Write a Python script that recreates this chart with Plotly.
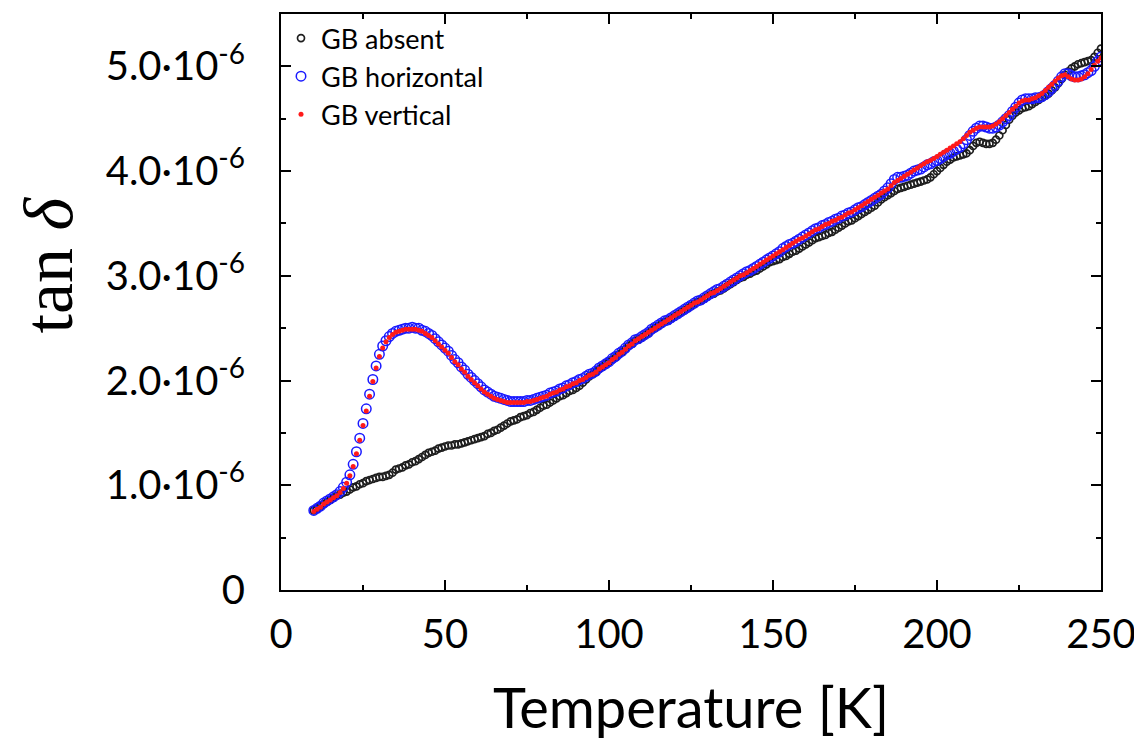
import numpy as np
import plotly.graph_objects as go

# temperature grid [K]
temperature = list(range(10, 251))

# tan delta in units of 1e-6
gb_absent = [
    0.76, 0.78, 0.80, 0.82, 0.84, 0.86, 0.88, 0.90, 0.91, 0.93,
    0.94, 0.96, 0.98, 0.99, 1.01, 1.02, 1.04, 1.05, 1.06, 1.07,
    1.08, 1.08, 1.09, 1.10, 1.12, 1.15, 1.16, 1.17, 1.19, 1.20,
    1.22, 1.23, 1.25, 1.27, 1.29, 1.31, 1.32, 1.33, 1.35, 1.36,
    1.37, 1.38, 1.38, 1.39, 1.39, 1.40, 1.41, 1.42, 1.43, 1.44,
    1.45, 1.46, 1.47, 1.49, 1.50, 1.52, 1.53, 1.55, 1.57, 1.59,
    1.61, 1.62, 1.63, 1.65, 1.66, 1.67, 1.69, 1.70, 1.72, 1.74,
    1.76, 1.77, 1.79, 1.81, 1.83, 1.85, 1.86, 1.88, 1.90, 1.91,
    1.93, 1.95, 1.98, 2.01, 2.04, 2.06, 2.08, 2.11, 2.13, 2.16,
    2.18, 2.20, 2.22, 2.25, 2.27, 2.30, 2.33, 2.35, 2.38, 2.39,
    2.41, 2.43, 2.45, 2.48, 2.50, 2.52, 2.54, 2.56, 2.57, 2.59,
    2.61, 2.63, 2.65, 2.67, 2.69, 2.71, 2.73, 2.75, 2.76, 2.78,
    2.80, 2.82, 2.83, 2.85, 2.86, 2.88, 2.90, 2.92, 2.94, 2.96,
    2.98, 2.99, 3.01, 3.02, 3.04, 3.05, 3.07, 3.09, 3.11, 3.13,
    3.14, 3.15, 3.16, 3.18, 3.19, 3.21, 3.23, 3.24, 3.26, 3.28,
    3.30, 3.32, 3.34, 3.36, 3.37, 3.38, 3.39, 3.41, 3.42, 3.44,
    3.46, 3.48, 3.50, 3.52, 3.53, 3.55, 3.57, 3.59, 3.61, 3.63,
    3.65, 3.67, 3.70, 3.73, 3.75, 3.77, 3.79, 3.81, 3.83, 3.84,
    3.85, 3.86, 3.87, 3.88, 3.89, 3.90, 3.91, 3.92, 3.94, 3.97,
    4.00, 4.03, 4.06, 4.09, 4.11, 4.13, 4.14, 4.15, 4.16, 4.17,
    4.20, 4.24, 4.27, 4.28, 4.27, 4.26, 4.26, 4.27, 4.30, 4.34,
    4.39, 4.44, 4.49, 4.53, 4.56, 4.58, 4.60, 4.61, 4.62, 4.64,
    4.66, 4.68, 4.70, 4.72, 4.74, 4.77, 4.80, 4.84, 4.88, 4.92,
    4.95, 4.98, 5.00, 5.02, 5.03, 5.04, 5.05, 5.06, 5.09, 5.13, 5.17,
]

gb_horizontal = [
    0.76, 0.78, 0.80, 0.83, 0.85, 0.87, 0.89, 0.91, 0.94, 0.98,
    1.03, 1.10, 1.20, 1.32, 1.45, 1.59, 1.73, 1.87, 2.01, 2.14,
    2.25, 2.33, 2.38, 2.42, 2.45, 2.47, 2.48, 2.49, 2.50, 2.50,
    2.51, 2.50, 2.50, 2.48, 2.47, 2.45, 2.43, 2.40, 2.37, 2.34,
    2.31, 2.28, 2.24, 2.20, 2.17, 2.13, 2.10, 2.06, 2.03, 2.00,
    1.97, 1.94, 1.91, 1.89, 1.87, 1.85, 1.84, 1.83, 1.82, 1.81,
    1.80, 1.80, 1.80, 1.80, 1.80, 1.81, 1.81, 1.82, 1.83, 1.84,
    1.85, 1.86, 1.88, 1.89, 1.90, 1.92, 1.93, 1.95, 1.96, 1.98,
    1.99, 2.01, 2.02, 2.04, 2.06, 2.07, 2.09, 2.12, 2.14, 2.16,
    2.18, 2.21, 2.23, 2.26, 2.28, 2.31, 2.34, 2.36, 2.39, 2.40,
    2.42, 2.44, 2.46, 2.49, 2.51, 2.53, 2.55, 2.57, 2.58, 2.60,
    2.62, 2.64, 2.66, 2.68, 2.70, 2.72, 2.74, 2.76, 2.77, 2.79,
    2.81, 2.83, 2.85, 2.87, 2.88, 2.90, 2.92, 2.94, 2.96, 2.98,
    3.00, 3.02, 3.04, 3.05, 3.07, 3.09, 3.11, 3.13, 3.15, 3.17,
    3.19, 3.21, 3.23, 3.26, 3.28, 3.30, 3.31, 3.33, 3.35, 3.37,
    3.39, 3.41, 3.43, 3.45, 3.46, 3.48, 3.49, 3.51, 3.52, 3.54,
    3.55, 3.57, 3.58, 3.60, 3.61, 3.63, 3.65, 3.66, 3.68, 3.70,
    3.72, 3.74, 3.76, 3.78, 3.81, 3.84, 3.88, 3.92, 3.94, 3.94,
    3.95, 3.96, 3.98, 4.00, 4.01, 4.02, 4.04, 4.06, 4.07, 4.09,
    4.10, 4.12, 4.14, 4.16, 4.17, 4.19, 4.21, 4.23, 4.26, 4.30,
    4.34, 4.38, 4.41, 4.43, 4.43, 4.42, 4.41, 4.41, 4.42, 4.44,
    4.47, 4.50, 4.53, 4.57, 4.61, 4.65, 4.68, 4.69, 4.69, 4.69,
    4.70, 4.70, 4.71, 4.73, 4.76, 4.79, 4.82, 4.86, 4.90, 4.93,
    4.93, 4.91, 4.90, 4.90, 4.91, 4.92, 4.94, 4.96, 5.00, 5.05, 5.09,
]

gb_vertical = [
    0.75, 0.77, 0.79, 0.82, 0.84, 0.86, 0.88, 0.90, 0.93, 0.97,
    1.02, 1.09, 1.18, 1.30, 1.43, 1.57, 1.71, 1.85, 1.99, 2.12,
    2.23, 2.31, 2.37, 2.41, 2.44, 2.46, 2.47, 2.48, 2.49, 2.49,
    2.49, 2.49, 2.48, 2.47, 2.45, 2.43, 2.41, 2.38, 2.35, 2.32,
    2.29, 2.26, 2.22, 2.18, 2.15, 2.11, 2.08, 2.04, 2.01, 1.98,
    1.95, 1.92, 1.89, 1.87, 1.85, 1.83, 1.82, 1.81, 1.80, 1.79,
    1.79, 1.79, 1.79, 1.79, 1.79, 1.80, 1.80, 1.81, 1.82, 1.83,
    1.84, 1.85, 1.87, 1.88, 1.89, 1.91, 1.92, 1.94, 1.95, 1.97,
    1.98, 2.00, 2.01, 2.03, 2.05, 2.06, 2.08, 2.11, 2.13, 2.15,
    2.17, 2.20, 2.22, 2.25, 2.27, 2.30, 2.33, 2.35, 2.38, 2.40,
    2.42, 2.44, 2.46, 2.48, 2.50, 2.52, 2.54, 2.56, 2.58, 2.60,
    2.62, 2.64, 2.66, 2.68, 2.70, 2.72, 2.74, 2.75, 2.77, 2.79,
    2.81, 2.83, 2.84, 2.86, 2.88, 2.90, 2.92, 2.94, 2.96, 2.98,
    3.00, 3.01, 3.03, 3.05, 3.07, 3.09, 3.11, 3.13, 3.15, 3.17,
    3.19, 3.21, 3.23, 3.25, 3.27, 3.29, 3.31, 3.33, 3.35, 3.36,
    3.38, 3.40, 3.42, 3.44, 3.45, 3.47, 3.49, 3.50, 3.52, 3.53,
    3.55, 3.56, 3.58, 3.60, 3.61, 3.63, 3.65, 3.67, 3.69, 3.71,
    3.73, 3.75, 3.77, 3.79, 3.81, 3.83, 3.86, 3.89, 3.91, 3.93,
    3.95, 3.97, 3.99, 4.01, 4.03, 4.05, 4.07, 4.09, 4.10, 4.12,
    4.14, 4.16, 4.18, 4.20, 4.22, 4.24, 4.26, 4.28, 4.31, 4.34,
    4.37, 4.39, 4.41, 4.42, 4.42, 4.42, 4.42, 4.43, 4.45, 4.47,
    4.50, 4.53, 4.56, 4.59, 4.62, 4.65, 4.67, 4.68, 4.68, 4.69,
    4.70, 4.72, 4.74, 4.77, 4.80, 4.83, 4.86, 4.89, 4.91, 4.92,
    4.90, 4.88, 4.87, 4.87, 4.88, 4.90, 4.93, 4.97, 5.01, 5.05, 5.08,
]

x_ticks = [0, 50, 100, 150, 200, 250]
y_ticks = [0, 1.0, 2.0, 3.0, 4.0, 5.0]
y_ticktext = ['0'] + ['%.1f·10<sup>-6</sup>' % v for v in y_ticks[1:]]

scale = 1e-6
fig = go.Figure()
fig.add_trace(go.Scatter(x=temperature, y=np.array(gb_absent) * scale,
                         mode='markers', name='GB absent',
                         marker=dict(symbol='circle-open', size=7, color='#1e1e1e',
                                     line=dict(width=1.7))))
fig.add_trace(go.Scatter(x=temperature, y=np.array(gb_horizontal) * scale,
                         mode='markers', name='GB horizontal',
                         marker=dict(symbol='circle-open', size=9.5, color='#1a1aff',
                                     line=dict(width=1.5))))
fig.add_trace(go.Scatter(x=temperature, y=np.array(gb_vertical) * scale,
                         mode='markers', name='GB vertical',
                         marker=dict(symbol='circle', size=5, color='#ff1a1a')))

axis_style = dict(showline=True, linecolor='black', linewidth=2, mirror='ticks',
                  ticks='inside', ticklen=10, tickwidth=2, tickcolor='black',
                  showgrid=False, zeroline=False, automargin=False,
                  tickfont=dict(family='Lato, Noto Sans, sans-serif', size=40, color='black'))

fig.update_xaxes(range=[0, 250], tickvals=x_ticks, ticklabelstandoff=8,
                 minor=dict(dtick=25, ticks='inside', ticklen=5, tickwidth=2, tickcolor='black'),
                 **axis_style)
fig.update_yaxes(range=[0, 5.5 * scale], tickvals=[v * scale for v in y_ticks],
                 ticktext=y_ticktext, ticklabelstandoff=26,
                 minor=dict(dtick=0.5 * scale, ticks='inside', ticklen=5, tickwidth=2,
                            tickcolor='black'),
                 **axis_style)

# the page body adds an 8px margin at the top left, so shift the figure back by it
fig.update_layout(
    width=1134, height=738,
    margin=dict(l=273, r=41, t=6, b=156),
    paper_bgcolor='white', plot_bgcolor='white',
    showlegend=True,
    legend=dict(x=0, y=1, xanchor='left', yanchor='top', bgcolor='rgba(0,0,0,0)',
                font=dict(family='Lato, Noto Sans, sans-serif', size=27, color='black'),
                tracegroupgap=0, itemwidth=30),
    annotations=[
        dict(text='Temperature [K]', xref='paper', yref='paper', x=0.5, y=-0.202,
             xanchor='center', yanchor='middle', showarrow=False,
             font=dict(family='Lato, Noto Sans, sans-serif', size=56, color='black')),
        dict(text='tan <i>δ</i>', xref='paper', yref='paper', x=-0.283, y=0.565,
             xanchor='center', yanchor='middle', showarrow=False, textangle=-90,
             font=dict(family='Liberation Serif, DejaVu Serif, serif', size=70, color='black')),
    ],
)

fig.write_html('out.html')
